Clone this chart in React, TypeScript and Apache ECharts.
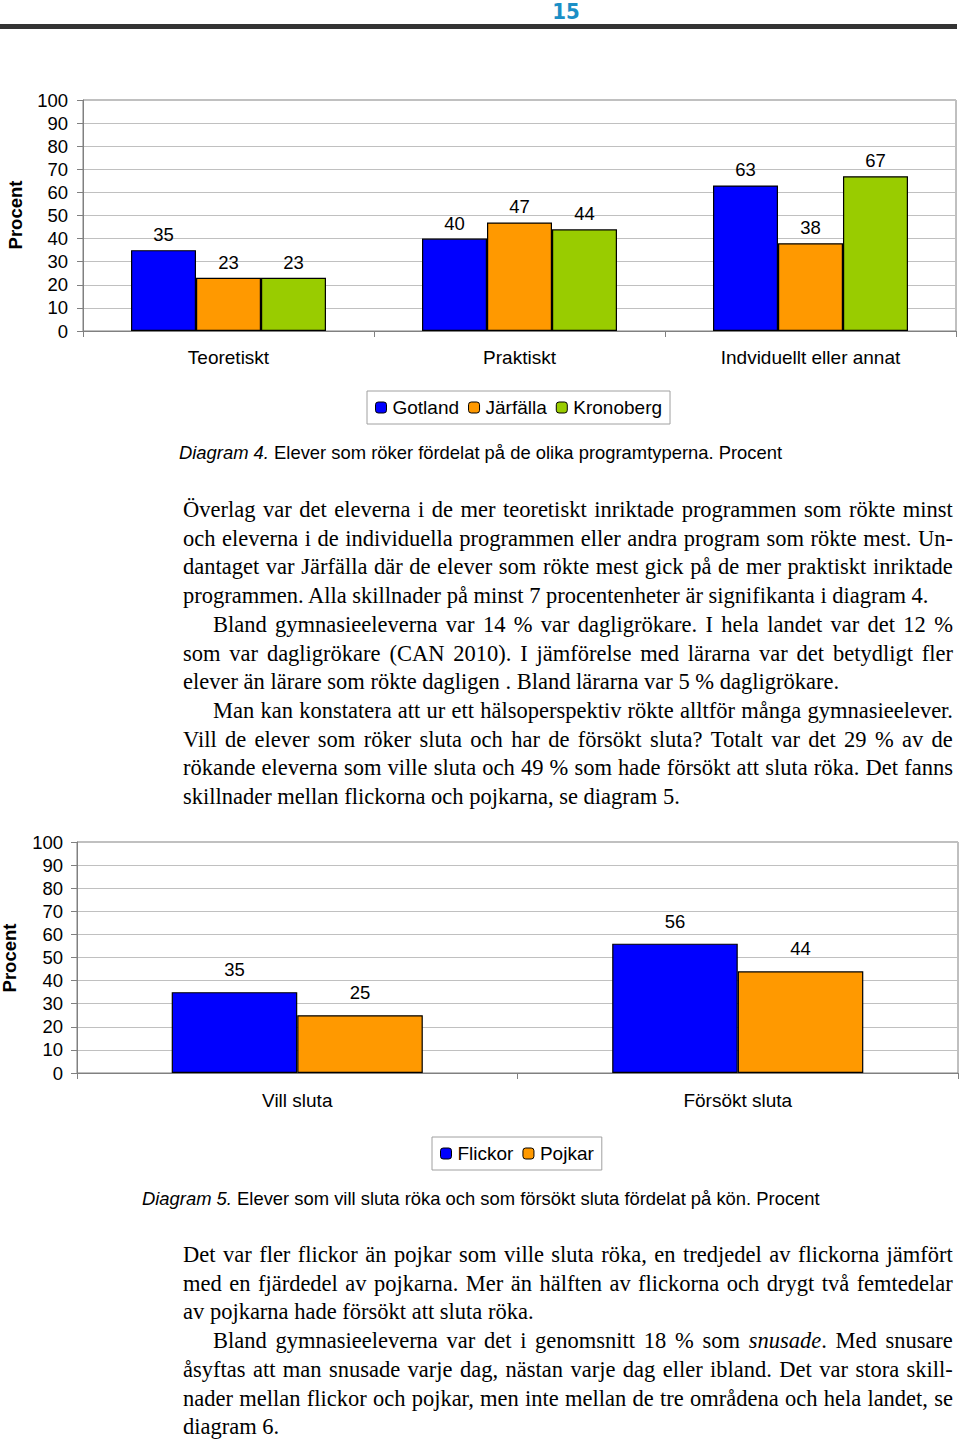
import React, { useEffect, useRef } from "react";
import * as echarts from "echarts";

// ---------- Data ----------
const programCategories = ["Teoretiskt", "Praktiskt", "Indviduellt eller annat"];
const regionNames = ["Gotland", "Järfälla", "Kronoberg"];
const gotland = [35, 40, 63];
const jarfalla = [23, 47, 38];
const kronoberg = [23, 44, 67];

const quitCategories = ["Vill sluta", "Försökt sluta"];
const genderNames = ["Flickor", "Pojkar"];
const flickor = [35, 56];
const pojkar = [25, 44];

const yMin = 0;
const yMax = 100;
const yStep = 10;

const pageNumber = "15";
const caption4 = "{i|Diagram 4.} Elever som röker fördelat på de olika programtyperna. Procent";
const caption5 = "{i|Diagram 5.} Elever som vill sluta röka och som försökt sluta fördelat på kön. Procent";
const axisTitle = "Procent";

// text lines: [text, justified, indented]
const block1: [string, boolean, boolean][] = [
  ["Överlag var det eleverna i de mer teoretiskt inriktade programmen som rökte minst", true, false],
  ["och eleverna i de individuella programmen eller andra program som rökte mest. Un-", true, false],
  ["dantaget var Järfälla där de elever som rökte mest gick på de mer praktiskt inriktade", true, false],
  ["programmen. Alla skillnader på minst 7 procentenheter är signifikanta i diagram 4.", false, false],
  ["Bland gymnasieeleverna var 14 % var dagligrökare. I hela landet var det 12 %", true, true],
  ["som var dagligrökare (CAN 2010). I jämförelse med lärarna var det betydligt fler", true, false],
  ["elever än lärare som rökte dagligen . Bland lärarna var 5 % dagligrökare.", false, false],
  ["Man kan konstatera att ur ett hälsoperspektiv rökte alltför många gymnasieelever.", true, true],
  ["Vill de elever som röker sluta och har de försökt sluta? Totalt var det 29 % av de", true, false],
  ["rökande eleverna som ville sluta och 49 % som hade försökt att sluta röka. Det fanns", true, false],
  ["skillnader mellan flickorna och pojkarna, se diagram 5.", false, false],
];
const block2: [string, boolean, boolean][] = [
  ["Det var fler flickor än pojkar som ville sluta röka, en tredjedel av flickorna jämfört", true, false],
  ["med en fjärdedel av pojkarna. Mer än hälften av flickorna och drygt två femtedelar", true, false],
  ["av pojkarna hade försökt att sluta röka.", false, false],
  ["Bland gymnasieeleverna var det i genomsnitt 18 % som {snusade}. Med snusare", true, true],
  ["åsyftas att man snusade varje dag, nästan varje dag eller ibland. Det var stora skill-", true, false],
  ["nader mellan flickor och pojkar, men inte mellan de tre områdena och hela landet, se", true, false],
  ["diagram 6.", false, false],
];

// ---------- Styles ----------
const SANS = '"Liberation Sans", Arial, sans-serif';
const SERIF = '"Liberation Serif", "Times New Roman", serif';
const BLUE = "#0000ff";
const ORANGE = "#ff9900";
const GREEN = "#99cc00";

function renderWord(w: string, key: number) {
  const parts = w.split(/(\{[^}]+\})/).filter((p) => p.length);
  return (
    <span key={key}>
      {parts.map((p, i) =>
        p.startsWith("{") ? (
          <i key={i}>{p.slice(1, -1)}</i>
        ) : (
          <React.Fragment key={i}>{p}</React.Fragment>
        )
      )}
    </span>
  );
}

function TextLine(props: { text: string; justify: boolean; indent: boolean; center: number }) {
  const { text, justify, indent, center } = props;
  const left = indent ? 213 : 183;
  const width = 953 - left;
  const words = text.split(" ");
  const lh = 28;
  return (
    <div
      style={{
        position: "absolute",
        left,
        top: center - lh / 2,
        width,
        height: lh,
        lineHeight: lh + "px",
        fontFamily: SERIF,
        fontSize: 22.5,
        color: "#000",
        whiteSpace: "nowrap",
        display: justify ? "flex" : "block",
        justifyContent: "space-between",
      }}
    >
      {justify
        ? words.map((w, i) => renderWord(w, i))
        : words.map((w, i) => (
            <React.Fragment key={i}>
              {renderWord(w, i)}
              {i < words.length - 1 ? " " : ""}
            </React.Fragment>
          ))}
    </div>
  );
}

export default function App() {
  const ref = useRef<HTMLDivElement>(null);

  useEffect(() => {
    if (!ref.current) return;
    const chart = echarts.init(ref.current, undefined, { renderer: "svg", width: 960, height: 1440 });

    const tickLabelStyle = { fontFamily: SANS, fontSize: 18.5, color: "#000" };
    const catLabelStyle = { fontFamily: SANS, fontSize: 19, color: "#000" };
    const yAxisCommon = {
      type: "value" as const,
      min: yMin,
      max: yMax,
      interval: yStep,
      axisLine: { show: true, lineStyle: { color: "#808080", width: 1 } },
      axisTick: { show: true, length: 6, lineStyle: { color: "#808080" } },
      splitLine: { show: true, lineStyle: { color: "#c0c0c0", width: 1 } },
    };
    const xAxisCommon = {
      type: "category" as const,
      axisLine: { show: true, lineStyle: { color: "#808080", width: 1 } },
      axisTick: { show: true, length: 6, lineStyle: { color: "#808080" } },
    };
    const barLabel = (distance: number) => ({
      show: true,
      position: "top" as const,
      distance,
      fontFamily: SANS,
      fontSize: 18.5,
      color: "#000",
    });
    const border = { borderColor: "#000", borderWidth: 1.2 };
    const legendCommon = {
      orient: "horizontal" as const,
      itemWidth: 11,
      itemHeight: 11,
      itemGap: 9,
      padding: [7, 8, 7, 8],
      borderColor: "#a0a0a0",
      borderWidth: 1,
      textStyle: { fontFamily: SANS, fontSize: 19, color: "#000", padding: [0, 0, 0, 1] },
      itemStyle: { borderColor: "#000", borderWidth: 1 },
      selectedMode: false,
    };

    chart.setOption({
      animation: false,
      backgroundColor: "#fff",
      grid: [
        { left: 83, top: 100, width: 873, height: 231, show: true, borderColor: "#808080", borderWidth: 1, containLabel: false },
        { left: 77, top: 842, width: 881, height: 231, show: true, borderColor: "#808080", borderWidth: 1, containLabel: false },
      ],
      xAxis: [
        { ...xAxisCommon, gridIndex: 0, data: programCategories, axisLabel: { ...catLabelStyle, margin: 17, interval: 0 } },
        { ...xAxisCommon, gridIndex: 1, data: quitCategories, axisLabel: { ...catLabelStyle, margin: 18, interval: 0 } },
      ],
      yAxis: [
        { ...yAxisCommon, gridIndex: 0, axisLabel: { ...tickLabelStyle, margin: 15 } },
        { ...yAxisCommon, gridIndex: 1, axisLabel: { ...tickLabelStyle, margin: 14 } },
      ],
      legend: [
        { ...legendCommon, data: regionNames, left: 367, top: 391 },
        { ...legendCommon, data: genderNames, left: 432, top: 1137 },
      ],
      series: [
        { name: regionNames[0], type: "bar", xAxisIndex: 0, yAxisIndex: 0, data: gotland, barGap: "0%", barCategoryGap: "33%", itemStyle: { color: BLUE, ...border }, label: barLabel(6) },
        { name: regionNames[1], type: "bar", xAxisIndex: 0, yAxisIndex: 0, data: jarfalla, barGap: "0%", barCategoryGap: "33%", itemStyle: { color: ORANGE, ...border }, label: barLabel(6) },
        { name: regionNames[2], type: "bar", xAxisIndex: 0, yAxisIndex: 0, data: kronoberg, barGap: "0%", barCategoryGap: "33%", itemStyle: { color: GREEN, ...border }, label: barLabel(6) },
        { name: genderNames[0], type: "bar", xAxisIndex: 1, yAxisIndex: 1, data: flickor, barGap: "0%", barCategoryGap: "43%", itemStyle: { color: BLUE, ...border }, label: barLabel(13) },
        { name: genderNames[1], type: "bar", xAxisIndex: 1, yAxisIndex: 1, data: pojkar, barGap: "0%", barCategoryGap: "43%", itemStyle: { color: ORANGE, ...border }, label: barLabel(13) },
      ],
      graphic: [
        {
          type: "text",
          x: 566,
          y: 11,
          style: {
            text: pageNumber,
            fontFamily: '"Liberation Sans Narrow", "DejaVu Sans Condensed", "Liberation Sans", sans-serif',
            fontSize: 22,
            fontWeight: "bold",
            fill: "#1b8fc6",
            textAlign: "center",
            textVerticalAlign: "middle",
          },
        },
        { type: "rect", shape: { x: 0, y: 24, width: 957, height: 5 }, style: { fill: "#333" } },
        {
          type: "text",
          x: 15,
          y: 215,
          rotation: Math.PI / 2,
          style: { text: axisTitle, fontFamily: SANS, fontSize: 18.5, fontWeight: "bold", fill: "#000", textAlign: "center", textVerticalAlign: "middle" },
        },
        {
          type: "text",
          x: 9,
          y: 958,
          rotation: Math.PI / 2,
          style: { text: axisTitle, fontFamily: SANS, fontSize: 18.5, fontWeight: "bold", fill: "#000", textAlign: "center", textVerticalAlign: "middle" },
        },
        {
          type: "text",
          x: 179,
          y: 452,
          style: {
            text: caption4,
            fontFamily: SANS,
            fontSize: 18.4,
            fill: "#000",
            textAlign: "left",
            textVerticalAlign: "middle",
            rich: { i: { fontStyle: "italic", fontFamily: SANS, fontSize: 18.4, fill: "#000" } },
          },
        },
        {
          type: "text",
          x: 142,
          y: 1198,
          style: {
            text: caption5,
            fontFamily: SANS,
            fontSize: 18.4,
            fill: "#000",
            textAlign: "left",
            textVerticalAlign: "middle",
            rich: { i: { fontStyle: "italic", fontFamily: SANS, fontSize: 18.4, fill: "#000" } },
          },
        },
      ],
    });

    return () => chart.dispose();
  }, []);

  return (
    <div style={{ position: "absolute", left: 0, top: 0, width: 960, height: 1440, background: "#fff" }}>
      <div ref={ref} style={{ position: "absolute", left: 0, top: 0, width: 960, height: 1440 }} />
      {block1.map(([t, j, ind], i) => (
        <TextLine key={"a" + i} text={t} justify={j} indent={ind} center={510 + i * 28.7} />
      ))}
      {block2.map(([t, j, ind], i) => (
        <TextLine key={"b" + i} text={t} justify={j} indent={ind} center={1255 + i * 28.7} />
      ))}
    </div>
  );
}
